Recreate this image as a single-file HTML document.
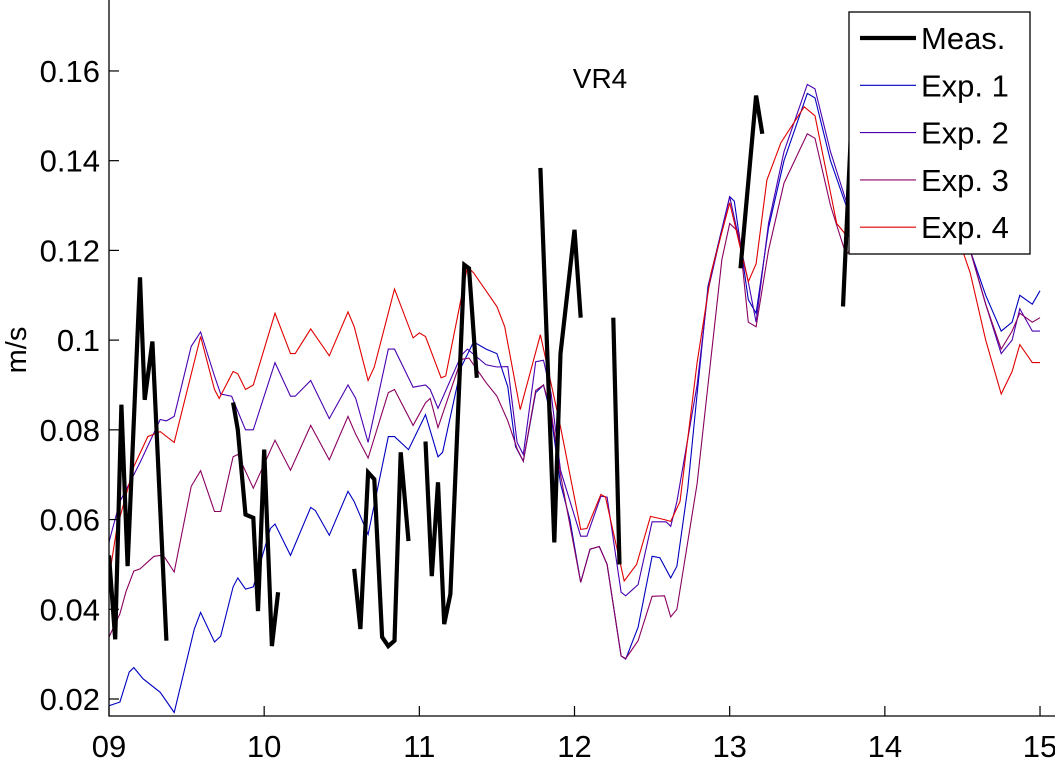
<!DOCTYPE html>
<html><head><meta charset="utf-8"><style>
html,body{margin:0;padding:0;background:#fff;}
svg{display:block;font-family:"Liberation Sans",sans-serif;}
</style></head><body>
<svg id="chart" width="1055" height="759" viewBox="0 0 1055 759">
<defs><clipPath id="plotclip"><rect x="109" y="0" width="946" height="716"/></clipPath></defs>
<g id="series" clip-path="url(#plotclip)"></g>
<g id="axes"></g>
<text x="600" y="88" font-size="28" text-anchor="middle">VR4</text>
<text transform="translate(26,350) rotate(-90)" font-size="29" text-anchor="middle">m/s</text>
<g id="legend">
<rect x="849" y="12" width="181" height="242" fill="#fff" stroke="#000" stroke-width="1.3"/>
</g>
</svg>
<script>
const xTicks = [9,10,11,12,13,14,15];
const xTickLabels = ["09","10","11","12","13","14","15"];
const yTicks = [0.02,0.04,0.06,0.08,0.1,0.12,0.14,0.16];
const yTickLabels = ["0.02","0.04","0.06","0.08","0.1","0.12","0.14","0.16"];
const seriesNames = ["Meas.","Exp. 1","Exp. 2","Exp. 3","Exp. 4"];

const exp1 = [[9.0,.0185],[9.07,.0193],[9.13,.026],[9.16,.027],[9.22,.0245],[9.33,.0215],[9.42,.017],[9.55,.0356],[9.59,.0393],[9.68,.0327],[9.72,.034],[9.8,.045],[9.83,.047],[9.88,.0445],[9.93,.045],[10.04,.058],[10.07,.059],[10.17,.052],[10.3,.0627],[10.33,.062],[10.42,.0565],[10.54,.0663],[10.58,.064],[10.67,.0567],[10.8,.0785],[10.84,.0785],[10.93,.0756],[11.04,.0834],[11.12,.074],[11.15,.075],[11.27,.094],[11.35,.0996],[11.43,.098],[11.5,.097],[11.57,.0896],[11.62,.0763],[11.67,.073],[11.75,.0883],[11.8,.09],[11.85,.083],[11.91,.068],[11.97,.06],[12.04,.046],[12.1,.0534],[12.16,.054],[12.21,.05],[12.3,.0296],[12.33,.0289],[12.41,.036],[12.5,.0518],[12.55,.0515],[12.62,.047],[12.66,.0496],[12.73,.067],[12.79,.088],[12.86,.112],[13.0,.132],[13.03,.131],[13.12,.109],[13.17,.106],[13.25,.125],[13.35,.14],[13.5,.155],[13.55,.154],[13.65,.14],[13.75,.13],[13.8,.131],[14.0,.14],[14.2,.145],[14.4,.135],[14.55,.12],[14.65,.11],[14.75,.102],[14.82,.104],[14.87,.11],[14.95,.108],[15.0,.111]];
const exp2 = [[9.0,.055],[9.07,.064],[9.13,.068],[9.2,.0727],[9.33,.0823],[9.37,.082],[9.42,.083],[9.53,.0986],[9.59,.1018],[9.68,.092],[9.72,.088],[9.79,.0875],[9.88,.08],[9.93,.08],[10.07,.095],[10.17,.0875],[10.2,.0875],[10.3,.091],[10.42,.0825],[10.54,.09],[10.59,.087],[10.67,.0772],[10.8,.098],[10.84,.098],[10.96,.0895],[11.04,.09],[11.07,.089],[11.12,.0848],[11.27,.0966],[11.31,.098],[11.43,.0945],[11.5,.094],[11.57,.0941],[11.63,.0772],[11.67,.0745],[11.75,.0952],[11.8,.0955],[11.85,.088],[11.91,.071],[12.04,.0563],[12.08,.0563],[12.17,.0652],[12.21,.065],[12.3,.0438],[12.33,.043],[12.41,.0455],[12.5,.0595],[12.59,.0595],[12.62,.0585],[12.66,.064],[12.79,.09],[12.86,.111],[13.0,.132],[13.12,.113],[13.17,.104],[13.25,.126],[13.35,.142],[13.5,.157],[13.55,.156],[13.65,.142],[13.75,.131],[13.8,.132],[14.0,.142],[14.2,.146],[14.4,.136],[14.55,.12],[14.65,.108],[14.75,.097],[14.82,.1],[14.87,.107],[14.95,.102],[15.0,.102]];
const exp3 = [[9.0,.0338],[9.07,.039],[9.11,.044],[9.16,.0485],[9.2,.049],[9.29,.0518],[9.33,.052],[9.36,.0515],[9.42,.0483],[9.53,.0674],[9.59,.0709],[9.68,.0618],[9.72,.0618],[9.8,.074],[9.83,.0745],[9.93,.067],[10.07,.0777],[10.17,.071],[10.3,.081],[10.42,.0733],[10.54,.083],[10.59,.079],[10.67,.0737],[10.8,.0883],[10.84,.089],[10.96,.081],[11.04,.086],[11.07,.087],[11.12,.0805],[11.27,.0957],[11.32,.096],[11.43,.0905],[11.5,.0875],[11.57,.082],[11.63,.0758],[11.67,.073],[11.75,.0888],[11.8,.09],[11.85,.084],[11.91,.07],[12.04,.046],[12.1,.0534],[12.16,.054],[12.21,.05],[12.3,.0296],[12.33,.029],[12.41,.033],[12.5,.0429],[12.58,.043],[12.62,.0383],[12.66,.04],[12.79,.068],[12.86,.09],[12.95,.118],[13.0,.126],[13.06,.124],[13.12,.104],[13.17,.103],[13.25,.12],[13.35,.135],[13.5,.146],[13.55,.145],[13.65,.13],[13.75,.119],[13.8,.121],[14.0,.132],[14.2,.138],[14.4,.13],[14.55,.12],[14.65,.108],[14.75,.098],[14.82,.102],[14.87,.106],[14.95,.104],[15.0,.105]];
const exp4 = [[9.0,.047],[9.05,.058],[9.13,.068],[9.16,.0718],[9.25,.0785],[9.33,.0796],[9.42,.0772],[9.59,.1008],[9.68,.089],[9.71,.087],[9.8,.093],[9.83,.0925],[9.88,.089],[9.93,.09],[10.07,.106],[10.17,.097],[10.2,.097],[10.3,.1025],[10.42,.0965],[10.54,.1063],[10.58,.103],[10.67,.091],[10.71,.094],[10.84,.1114],[10.96,.1005],[11.0,.1016],[11.04,.1008],[11.14,.0916],[11.17,.092],[11.31,.1163],[11.35,.115],[11.5,.1075],[11.55,.103],[11.65,.0845],[11.78,.1012],[11.91,.0807],[12.04,.0578],[12.08,.058],[12.17,.0656],[12.2,.065],[12.32,.0463],[12.4,.05],[12.49,.0607],[12.58,.06],[12.62,.0596],[12.68,.064],[12.79,.095],[12.88,.115],[13.0,.1306],[13.12,.113],[13.17,.117],[13.24,.1357],[13.33,.144],[13.48,.152],[13.55,.15],[13.69,.126],[13.76,.123],[13.8,.125],[14.0,.135],[14.2,.14],[14.4,.13],[14.55,.115],[14.65,.1],[14.75,.088],[14.82,.093],[14.87,.099],[14.95,.095],[15.0,.095]];
const measSeg1 = [[9.0,.052],[9.04,.0333],[9.08,.0856],[9.12,.0496],[9.2,.114],[9.23,.0867],[9.28,.0997],[9.37,.033]];
const measSeg2 = [[9.8,.0861],[9.83,.08],[9.88,.0611],[9.93,.0604],[9.96,.0396],[10.0,.0756],[10.05,.0318],[10.09,.0438]];
const measSeg3 = [[10.58,.049],[10.62,.0356],[10.67,.0705],[10.71,.069],[10.76,.0338],[10.8,.0318],[10.84,.033],[10.88,.075],[10.93,.0552]];
const measSeg4 = [[11.04,.0774],[11.08,.0474],[11.12,.0683],[11.16,.0367],[11.2,.0434],[11.29,.1168],[11.32,.116],[11.37,.0916]];
const measSeg5 = [[11.78,.1384],[11.87,.0549],[11.91,.097],[12.0,.1246],[12.04,.105]];
const measSeg6 = [[12.25,.105],[12.29,.05]];
const measSeg7 = [[13.07,.116],[13.17,.1545],[13.21,.146]];
const measSeg8 = [[13.73,.1075],[13.78,.145]];

const X0 = 109, XS = 155.17, Y0 = 699, YS = 4486;
function xPx(t){ return X0 + (t - 9) * XS; }
function yPx(v){ return Y0 - (v - 0.02) * YS; }
const NS = "http://www.w3.org/2000/svg";
function mk(tag, attrs, parent){ const e = document.createElementNS(NS, tag); for (const k in attrs) e.setAttribute(k, attrs[k]); parent.appendChild(e); return e; }
function pts(data){ return data.map(d => xPx(d[0]).toFixed(1) + "," + yPx(d[1]).toFixed(1)).join(" "); }

const sg = document.getElementById("series");
const expSeries = [[exp1,"#0000c0","exp-1-line"],[exp2,"#4a00b0","exp-2-line"],[exp3,"#8a0060","exp-3-line"],[exp4,"#e00000","exp-4-line"]];
expSeries.forEach(s => {
  const p = mk("polyline", {points: pts(s[0]), fill: "none", stroke: s[1], "stroke-width": 1.1}, sg);
  
  
});
[measSeg1,measSeg2,measSeg3,measSeg4,measSeg5,measSeg6,measSeg7,measSeg8].forEach(seg => {
  const p = mk("polyline", {points: pts(seg), fill: "none", stroke: "#000", "stroke-width": 4.2, "stroke-linejoin": "miter", "stroke-miterlimit": 3}, sg);
  
  
});

const ax = document.getElementById("axes");
const axl = mk("path", {d: "M109,0 V716 H1055", fill: "none", stroke: "#000", "stroke-width": 1.3}, ax);


xTicks.forEach((t, i) => {
  const x = xPx(t);
  const tk = mk("line", {x1: x, y1: 716, x2: x, y2: 706, stroke: "#000", "stroke-width": 1.2}, ax);
  
  
  const lb = mk("text", {x: x, y: 757, "font-size": 31, "text-anchor": "middle"}, ax);
  lb.textContent = xTickLabels[i];
  
  
});
yTicks.forEach((v, i) => {
  const y = yPx(v);
  const tk = mk("line", {x1: 109, y1: y, x2: 119, y2: y, stroke: "#000", "stroke-width": 1.2}, ax);
  
  
  const lb = mk("text", {x: 100, y: y + 11, "font-size": 31, "text-anchor": "end"}, ax);
  lb.textContent = yTickLabels[i];
  
  
});

const lg = document.getElementById("legend");
const lgColors = ["#000","#0000c0","#4a00b0","#8a0060","#e00000"];
const lgWidths = [4.2,1.1,1.1,1.1,1.1];
seriesNames.forEach((n, i) => {
  const y = 38 + i * 47.3;
  const ln = mk("line", {x1: 860, y1: y, x2: 916, y2: y, stroke: lgColors[i], "stroke-width": lgWidths[i]}, lg);
  
  
  const tx = mk("text", {x: 921, y: y + 11, "font-size": 31}, lg);
  tx.textContent = n;
  
  
});
</script>
</body></html>
